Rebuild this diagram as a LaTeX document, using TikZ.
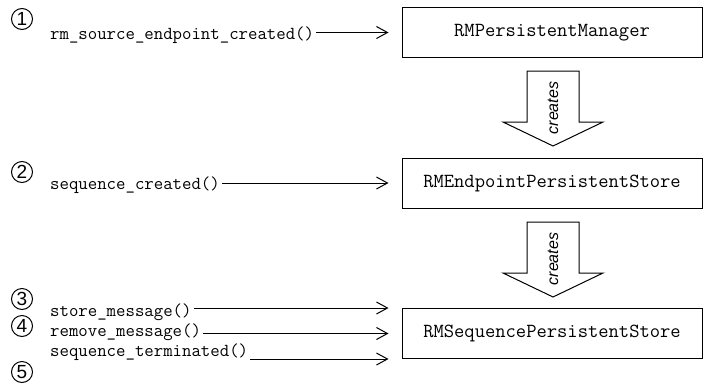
\documentclass[tikz,border=0pt]{standalone}
\usepackage{fontspec}
\setmainfont{Liberation Sans}
\usepackage{tikz}
\usetikzlibrary{arrows.meta}

\tikzset{
  call/.style={anchor=west, inner sep=2pt, font=\fontsize{18.3}{18.3}\selectfont\ttfamily},
  store/.style={draw, line width=1pt, minimum width=300pt, minimum height=50pt, font=\fontsize{20}{20}\selectfont\ttfamily},
  num/.style={circle, draw, line width=1pt, minimum size=21pt, inner sep=0pt, font=\fontsize{19}{19}\selectfont},
  msg/.style={-{Straight Barb[length=11pt,width=12pt]}, line width=1pt, shorten >=13pt},
  creates/.style={draw, line width=1pt, fill=white},
  createslabel/.style={rotate=90, inner sep=0pt, font=\fontsize{16}{16}\selectfont\itshape}
}

\begin{document}
\begin{tikzpicture}[x=1pt,y=-1pt]
\useasboundingbox (0,0) rectangle (703,383);

\node[store] (mgr) at (552,32.5) {RMPersistentManager};
\node[store] (ept) at (552,183) {RMEndpointPersistentStore};
\node[store] (seq) at (552,333.5) {RMSequencePersistentStore};

\draw[creates] (527,71) -- (579,71) -- (579,122) -- (603,122) -- (553,146) -- (503,122) -- (527,122) -- cycle;
\node[createslabel] (cr1) at (553,108) {creates};
\draw[creates] (527,222) -- (579,222) -- (579,273) -- (603,273) -- (553,297) -- (503,273) -- (527,273) -- cycle;
\node[createslabel] (cr2) at (553,259) {creates};

\node[num] (n1) at (22,19) {1};
\node[call] (c1) at (48,35) {rm\_source\_endpoint\_created()};
\draw[msg] (c1.east |- mgr.west) -- (mgr.west);

\node[num] (n2) at (22,172) {2};
\node[call] (c2) at (48,185) {sequence\_created()};
\draw[msg] (c2.east |- ept.west) -- (ept.west);

\node[num] (n3) at (22,299) {3};
\node[num] (n4) at (22,326) {4};
\node[num] (n5) at (22,372) {5};
\node[call] (c3) at (48,312) {store\_message()};
\node[call] (c4) at (48,332) {remove\_message()};
\node[call] (c5) at (48,352) {sequence\_terminated()};
\draw[msg] (c3.east |- seq.north west) -- (seq.north west);
\draw[msg] (c4.east |- seq.west) -- (seq.west);
\draw[msg] (c5.east |- seq.south west) -- (seq.south west);
\end{tikzpicture}
\end{document}
